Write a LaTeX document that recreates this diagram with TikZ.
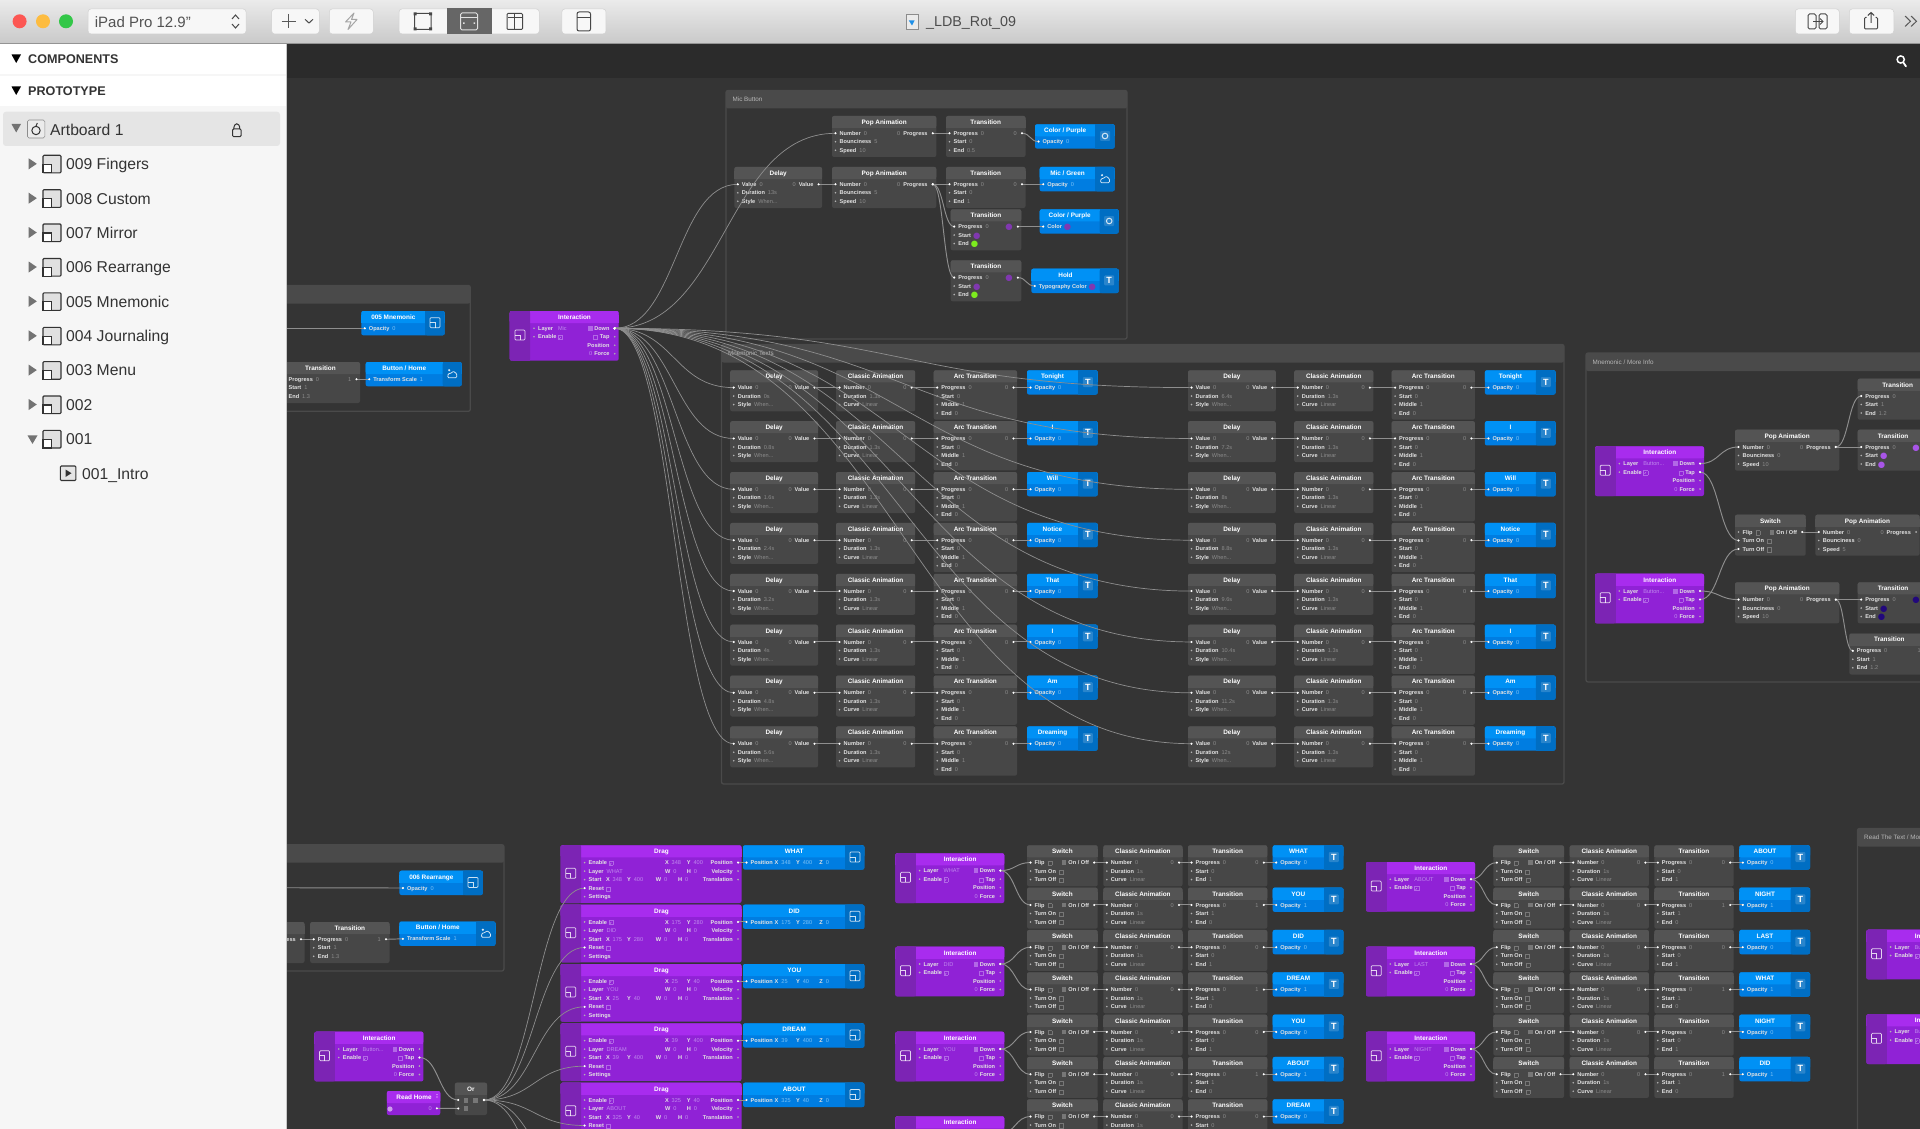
\documentclass[tikz,border=0pt]{standalone}
\usepackage{fontspec}
\setmainfont{Liberation Sans}
\newfontfamily\djfont{DejaVu Sans}
\usetikzlibrary{calc}
\definecolor{canvasc}{HTML}{343434}
\definecolor{stripc}{HTML}{2B2B2B}
\definecolor{groupc}{HTML}{4A4A4A}
\definecolor{cardc}{HTML}{474747}
\definecolor{cardt}{HTML}{545454}
\definecolor{labc}{HTML}{E2E2E2}
\definecolor{valc}{HTML}{8C8C8C}
\definecolor{valp}{HTML}{C08AEE}
\definecolor{valb}{HTML}{7CC2F6}
\definecolor{purb}{HTML}{9022D6}
\definecolor{purt}{HTML}{A82CEE}
\definecolor{puri}{HTML}{7C24B4}
\definecolor{blub}{HTML}{007DE1}
\definecolor{blut}{HTML}{0091F5}
\definecolor{blui}{HTML}{006EC3}
\definecolor{wirec}{HTML}{8E8E8E}
\definecolor{boxc}{HTML}{777777}
\definecolor{boxp}{HTML}{B268E6}
\definecolor{dotpur}{HTML}{8038B0}
\definecolor{dotlil}{HTML}{A855E8}
\definecolor{dotgrn}{HTML}{7CEB1E}
\definecolor{dotnav}{HTML}{22087C}
\definecolor{sidec}{HTML}{F6F6F6}
\definecolor{inkc}{HTML}{333333}
\definecolor{tlred}{HTML}{FC5753}
\definecolor{tlyel}{HTML}{FDBC40}
\definecolor{tlgrn}{HTML}{33C748}
\definecolor{docblue}{HTML}{1E90E8}
\newcommand\rowf{\fontsize{5.6}{6}\selectfont}
\newcommand\ttlf{\fontsize{6.4}{7}\selectfont\bfseries}
\newcommand\LB[1]{\textbf{#1}}
\newcommand\VG[1]{\hspace{3pt}\textcolor{valc}{#1}}
\newcommand\VP[1]{\hspace{3pt}\textcolor{valp}{#1}}
\newcommand\VB[1]{\hspace{3pt}\textcolor{valb}{#1}}
\newcommand\VR[1]{\textcolor{valc}{#1}\hspace{3pt}}
\newcommand\CBX{\raisebox{-.4pt}{\setlength\fboxsep{0pt}\setlength\fboxrule{.5pt}\textcolor{boxc}{\fbox{\rule{0pt}{3.6pt}\hspace{3.6pt}}}}}
\newcommand\CBXP{\raisebox{-.4pt}{\setlength\fboxsep{0pt}\setlength\fboxrule{.5pt}\textcolor{boxp}{\fbox{\rule{0pt}{3.6pt}\hspace{3.6pt}}}}}
\newcommand\CBF{\raisebox{-.4pt}{\color{boxc}\rule{4.8pt}{4.8pt}}}
\newcommand\CBFP{\raisebox{-.4pt}{\color{boxp}\rule{4.8pt}{4.8pt}}}
\newcommand\CBC{\raisebox{-.4pt}{\setlength\fboxsep{0pt}\setlength\fboxrule{.45pt}\color{boxp}\fbox{\rule{0pt}{3.8pt}\makebox[3.8pt]{\color{white}\djfont\fontsize{3.4}{3.4}\selectfont ✓}}}}
\newcommand\DOTC[1]{\raisebox{-.9pt}{\textcolor{#1}{\djfont\fontsize{8.4}{8}\selectfont ●}}}
\tikzset{
  cardbg/.style={rounded corners=2pt,inner sep=0pt,outer sep=0pt,anchor=north west},
  ttl/.style={text=white,font=\ttlf,inner sep=0pt,outer sep=0pt,text height=4.6pt,text depth=1.3pt,anchor=center},
  rowt/.style={text=labc,font=\rowf,inner sep=0pt,outer sep=0pt,text height=4.2pt,text depth=1.2pt},
  portdim/.style={fill=white!70!black},
  wire/.style={draw=wirec,line width=.95pt},
  fanwire/.style={draw=wirec,line width=.7pt},
  btn/.style={fill=white!97!black,draw=black!18,line width=.5pt,rounded corners=3pt,inner sep=0pt,anchor=north west},
  sidet/.style={text=inkc,inner sep=0pt,anchor=west,font=\fontsize{15.7}{18}\selectfont,text height=11.5pt,text depth=3.2pt},
  headt/.style={text=inkc,inner sep=0pt,anchor=west,font=\fontsize{12.6}{14}\selectfont\bfseries,text height=9.2pt,text depth=2.6pt},
  grouplab/.style={text=black!28,inner sep=0pt,anchor=west,font=\fontsize{6.3}{7}\selectfont,text height=4.6pt,text depth=1.4pt},
  tbicon/.style={draw=black!72,line width=1pt,rounded corners=1pt},
}
\newcommand\basecard[7]{%
  \edef\cn{#1}\edef\cx{#2}\edef\cy{#3}\edef\cw{#4}\def\lo{3.5}\def\ro{3.5}%
  \node[cardbg,fill=#6,minimum width=#4pt,minimum height=#5pt] (\cn) at (\cx,\cy) {};
  \fill[#7,rounded corners=2pt] (\cx,\cy) rectangle ({\cx+\cw},{\cy+12});
  \fill[#7] (\cx,{\cy+4}) rectangle ({\cx+\cw},{\cy+12});
}
\newcommand\graycard[6]{\basecard{#1}{#2}{#3}{#4}{#5}{cardc}{cardt}%
  \node[ttl] (\cn-t) at ({\cx+\cw/2},{\cy+6.8}) {#6};}
\newcommand\IR[2]{%
  \coordinate (\cn-i#1) at ({\cx+\lo},{\cy+8.8+8.5*#1});
  \fill[portdim] (\cn-i#1) circle (.9pt);
  \node[rowt,anchor=west] (\cn-l#1) at ({\cx+\lo+4.1},{\cy+9.4+8.5*#1}) {#2};}
\newcommand\OR[2]{%
  \coordinate (\cn-o#1) at ({\cx+\cw-\ro},{\cy+8.8+8.5*#1});
  \fill[portdim] (\cn-o#1) circle (.9pt);
  \node[rowt,anchor=east] (\cn-r#1) at ({\cx+\cw-\ro-5.2},{\cy+9.4+8.5*#1}) {#2};}
\newcommand\TX[4]{\node[rowt,anchor=west] (\cn-x#1) at ({\cx+#2},{\cy+9.4+8.5*#3}) {#4};}
% icons
\newcommand\iconL[3]{%
  \draw[white,opacity=.8,line width=.75pt,rounded corners=1pt] ({#2-5},{#3-5}) rectangle ({#2+5},{#3+5});
  \draw[white,opacity=.8,line width=.75pt] ({#2-5},{#3}) -- ({#2},{#3}) -- ({#2},{#3+5});}
\newcommand\iconT[3]{%
  \fill[white,opacity=.16,rounded corners=1pt] ({#2-5},{#3-5}) rectangle ({#2+5},{#3+5});
  \node[inner sep=0pt,text=white,font=\fontsize{9}{9}\selectfont\bfseries] (#1) at (#2,#3) {T};}
\newcommand\iconI[3]{%
  \fill[white,opacity=.85] ({#2-3},{#3-3.5}) circle (1.2pt);
  \draw[white,opacity=.85,line width=.75pt,rounded corners=1pt] ({#2-4.5},{#3+4}) -- ({#2-4},{#3}) -- ({#2-1},{#3-.5}) -- ({#2+1},{#3-2.5}) -- ({#2+4.5},{#3}) -- ({#2+4.5},{#3+4}) -- cycle;}
\newcommand\iconC[3]{%
  \fill[white,opacity=.14,rounded corners=1pt] ({#2-5},{#3-5}) rectangle ({#2+5},{#3+5});
  \draw[white,opacity=.8,line width=1pt] (#2,#3) circle (2.8pt);}
\newcommand\bluecard[8]{%
  \basecard{#1}{#2}{#3}{#4}{24.3}{blub}{blut}%
  \fill[blui,rounded corners=2pt] ({\cx+\cw-#5},\cy) rectangle ({\cx+\cw},{\cy+24.3});
  \fill[blui] ({\cx+\cw-#5},\cy) rectangle ({\cx+\cw-3},{\cy+24.3});
  \node[ttl] (\cn-t) at ({\cx+(\cw-#5)/2},{\cy+6.8}) {#6};
  \IR{1}{#7}%
  \pgfmathsetmacro\ix{\cx+\cw-#5/2}\pgfmathsetmacro\iy{\cy+11.7}%
  \csname icon#8\endcsname{\cn-ic}{\ix}{\iy}}
\newcommand\interaction[4]{%
  \basecard{#1}{#2}{#3}{109}{49.7}{purb}{purt}\def\lo{24.3}\def\ro{4}%
  \fill[puri,rounded corners=2pt] (\cx,\cy) rectangle ({\cx+20.5},{\cy+49.7});
  \fill[puri] ({\cx+3},\cy) rectangle ({\cx+20.5},{\cy+49.7});
  \node[ttl] (\cn-t) at ({\cx+64.8},{\cy+6.8}) {Interaction};
  \IR{1}{\LB{Layer}\hspace{2pt}\VP{#4}}\IR{2}{\LB{Enable}\hspace{1.5pt}\CBC}%
  \OR{1}{\CBFP\hspace{1.5pt}\LB{Down}}\OR{2}{\CBXP\hspace{2pt}\LB{Tap}}%
  \OR{3}{\LB{Position}}\OR{4}{\textcolor{valp}{0}\hspace{2pt}\LB{Force}}%
  \pgfmathsetmacro\ix{\cx+10.2}\pgfmathsetmacro\iy{\cy+24}\iconL{\cn-ic}{\ix}{\iy}}
\newcommand\TR[7]{\graycard{#1}{#2}{#3}{#4}{41}{Transition}%
  \IR{1}{\LB{Progress}\VG{0}}\OR{1}{\textcolor{valc}{#5}}%
  \IR{2}{\LB{Start}\VG{#6}}\IR{3}{\LB{End}\VG{#7}}}
\newcommand\TRC[7]{\graycard{#1}{#2}{#3}{#4}{41}{Transition}%
  \IR{1}{\LB{Progress}\VG{0}}\OR{1}{\DOTC{#5}}%
  \IR{2}{\LB{Start}\hspace{2pt}\DOTC{#6}}\IR{3}{\LB{End}\hspace{2pt}\DOTC{#7}}}
\newcommand\popanim[7]{\graycard{#1}{#2}{#3}{104.3}{41}{Pop Animation}%
  \IR{1}{\LB{Number}\VG{#4}}\OR{1}{\VR{0}\LB{Progress}}%
  \IR{2}{\LB{Bounciness}\VG{#5}}\IR{3}{\LB{Speed}\VG{#6}}}
\newcommand\delaycard[4]{\graycard{#1}{#2}{#3}{87.8}{41}{Delay}%
  \IR{1}{\LB{Value}\VG{0}}\OR{1}{\VR{0}\LB{Value}}%
  \IR{2}{\LB{Duration}\VG{#4}}\IR{3}{\LB{Style}\VG{When...}}}
\newcommand\classic[4]{\graycard{#1}{#2}{#3}{79.2}{41}{Classic Animation}%
  \IR{1}{\LB{Number}\VG{0}}\OR{1}{\textcolor{valc}{0}}%
  \IR{2}{\LB{Duration}\VG{#4}}\IR{3}{\LB{Curve}\VG{Linear}}}
\newcommand\arcT[3]{\graycard{#1}{#2}{#3}{83.3}{49.3}{Arc Transition}%
  \IR{1}{\LB{Progress}\VG{0}}\OR{1}{\textcolor{valc}{0}}%
  \IR{2}{\LB{Start}\VG{0}}\IR{3}{\LB{Middle}\VG{1}}\IR{4}{\LB{End}\VG{0}}}
\newcommand\switchcard[3]{\graycard{#1}{#2}{#3}{70.7}{41}{Switch}%
  \IR{1}{\LB{Flip}\hspace{3pt}\CBX}\OR{1}{\CBF\hspace{2pt}\LB{On / Off}}%
  \IR{2}{\LB{Turn On}\hspace{3pt}\CBX}\IR{3}{\LB{Turn Off}\hspace{3pt}\CBX}}
\newcommand\dragcard[6]{% name y X Y layer
  \basecard{#1}{560.5}{#2}{181}{57.7}{purb}{purt}\def\lo{24.1}%
  \fill[puri,rounded corners=2pt] (\cx,\cy) rectangle ({\cx+20.7},{\cy+57.7});
  \fill[puri] ({\cx+3},\cy) rectangle ({\cx+20.7},{\cy+57.7});
  \node[ttl] (\cn-t) at ({\cx+101},{\cy+6.8}) {Drag};
  \IR{1}{\LB{Enable}\hspace{1.5pt}\CBC}\IR{2}{\LB{Layer}\VP{#5}}\IR{3}{\LB{Start}}%
  \IR{4}{\LB{Reset}\hspace{2pt}\CBXP}\IR{5}{\LB{Settings}}%
  \OR{1}{\LB{Position}}\OR{2}{\LB{Velocity}}\OR{3}{\LB{Translation}}%
  \TX{a}{104.5}{1}{\LB{X}\VP{#3}}\TX{b}{126.3}{1}{\LB{Y}\VP{#4}}%
  \TX{c}{104.5}{2}{\LB{W}\VP{0}}\TX{d}{126.3}{2}{\LB{H}\VP{0}}%
  \TX{e}{45.5}{3}{\LB{X}\VP{#3}}\TX{f}{66.6}{3}{\LB{Y}\VP{#4}}%
  \TX{g}{95.3}{3}{\LB{W}\VP{0}}\TX{h}{117.5}{3}{\LB{H}\VP{0}}%
  \pgfmathsetmacro\ix{\cx+10.2}\pgfmathsetmacro\iy{\cy+28}\iconL{\cn-ic}{\ix}{\iy}}
\newcommand\groupbox[6]{%
  \fill[groupc,rounded corners=2pt] (#2,#3) rectangle (#4,{#3+18});
  \draw[groupc,line width=1.3pt,rounded corners=2pt] (#2,#3) rectangle (#4,#5);
  \node[grouplab] (#1) at ({#2+6.5},{#3+9.6}) {#6};}
\newcommand\wire[2]{%
  \draw[wire] let \p1=(#1),\p2=(#2),\n1={0.5*abs(\x2-\x1)} in (\p1) .. controls +(\n1,0) and +(-\n1,0) .. (\p2);
  \fill[white] (#1) circle (1.15pt);\fill[white] (#2) circle (1.15pt);}
\newcommand\fanw[2]{%
  \draw[fanwire] let \p1=(#1),\p2=(#2),\n1={0.5*abs(\x2-\x1)} in (\p1) .. controls +(\n1,0) and +(-\n1,0) .. (\p2);
  \fill[white] (#1) circle (1.15pt);\fill[white] (#2) circle (1.15pt);}
\begin{document}
\begin{tikzpicture}[x=1pt,y=-1pt]
\clip (0,0) rectangle (1920,1129);
\useasboundingbox (0,0) rectangle (1920,1129);
\fill[canvasc] (0,0) rectangle (1920,1129);
\fill[stripc] (286,43) rectangle (1920,78.5);
% ---------- groups
\groupbox{gMic}{726}{90.5}{1127}{339}{Mic Button}
\groupbox{gTexts}{721.5}{344.5}{1564}{784}{Mnemonic Texts}
\groupbox{gMore}{1586}{353}{2100}{682}{Mnemonic / More Info}
\groupbox{gTop}{200}{285.5}{470.3}{411.3}{}
\groupbox{gBot}{200}{844.7}{503.9}{971}{}
\groupbox{gRead}{1857.5}{828.5}{2200}{1300}{Read The Text / More Info}
% ---------- left fragments
\bluecard{b005}{361.3}{311}{83.4}{19.4}{005 Mnemonic}{\LB{Opacity}\VB{0}}{L}
\TR{tTop}{281}{362}{79}{1}{1}{1.3}
\bluecard{bHomeA}{365.7}{362}{96}{19}{Button / Home}{\LB{Transform Scale}\VB{1}}{I}
\coordinate (hidA) at (270,328.3);
\bluecard{b006}{399.4}{870.7}{83.4}{19.5}{006 Rearrange}{\LB{Opacity}\VB{0}}{L}
\popanim{pBot}{200.2}{922}{0}{0}{10}{}
\TR{tBot}{310.2}{922}{79.3}{1}{1}{1.3}
\bluecard{bHomeB}{399.4}{921.5}{96.1}{19.2}{Button / Home}{\LB{Transform Scale}\VB{1}}{I}
\coordinate (hidB) at (270,887.7);
% ---------- main interaction
\interaction{main}{509.7}{311}{Mic}
% ---------- mic button group
\popanim{mp1}{832}{116}{0}{5}{10}{}
\TR{mt1}{946}{116}{79.5}{0}{0}{0.5}
\bluecard{mb1}{1035}{124.3}{79.7}{19.4}{Color / Purple}{\LB{Opacity}\VB{0}}{C}
\delaycard{md}{734.3}{167}{13s}
\popanim{mp2}{832}{167}{0}{5}{10}{}
\TR{mt2}{946}{167}{79.5}{0}{0}{1}
\bluecard{mb2}{1039.7}{167}{75}{19.4}{Mic / Green}{\LB{Opacity}\VB{0}}{I}
\TRC{mt3}{950.7}{209.3}{70.6}{dotpur}{dotpur}{dotgrn}
\bluecard{mb3}{1039.7}{209.3}{79}{19}{Color / Purple}{\LB{Color}\hspace{2pt}\DOTC{dotpur}}{C}
\TRC{mt4}{950.7}{260.3}{70.6}{dotpur}{dotpur}{dotgrn}
\bluecard{mb4}{1031.3}{268.7}{87.4}{19}{Hold}{\LB{Typography Color}\hspace{2pt}\DOTC{dotpur}}{T}
% ---------- mnemonic texts
\foreach \kk/\da/\db/\t in {0/0s/6.4s/Tonight,1/0.8s/7.2s/I,2/1.6s/8s/Will,3/2.4s/8.8s/Notice,4/3.2s/9.6s/That,5/4s/10.4s/I,6/4.8s/11.2s/Am,7/5.6s/12s/Dreaming}{
  \pgfmathsetmacro\yy{370.3+50.87*\kk}
  \delaycard{da\kk}{730.2}{\yy}{\da}
  \classic{ca\kk}{836}{\yy}{1.3s}
  \arcT{aa\kk}{933.7}{\yy}
  \bluecard{ba\kk}{1027}{\yy}{70.7}{19.7}{\t}{\LB{Opacity}\VB{0}}{T}
  \delaycard{db\kk}{1188}{\yy}{\db}
  \classic{cb\kk}{1294.2}{\yy}{1.3s}
  \arcT{ab\kk}{1391.6}{\yy}
  \bluecard{bb\kk}{1484.9}{\yy}{70.7}{19.7}{\t}{\LB{Opacity}\VB{0}}{T}
}
% ---------- more info group
\interaction{i1}{1595}{446.3}{Button...}
\interaction{i2}{1595}{573.7}{Button...}
\popanim{ip1}{1735}{429.7}{0}{0}{10}{}
\TR{it1}{1857.7}{378.7}{80}{1}{1}{1.2}
\TRC{it2}{1857.7}{429.7}{70.7}{dotlil}{dotlil}{dotlil}
\switchcard{is}{1735}{514.7}
\popanim{ip2}{1815.3}{514.7}{0}{0}{5}{}
\popanim{ip3}{1735}{582.3}{0}{0}{10}{}
\TRC{it3}{1857.7}{582.3}{70.7}{dotnav}{dotnav}{dotnav}
\TR{it4}{1849.3}{633.5}{80}{1}{1}{1.2}
% ---------- read the text interactions
\interaction{ir1}{1866.3}{929.7}{Button...}
\interaction{ir2}{1866.3}{1014.3}{Button...}
% ---------- drags
\foreach \kk/\vx/\vy/\t in {0/348/400/WHAT,1/175/280/DID,2/25/40/YOU,3/39/400/DREAM,4/325/40/ABOUT}{
  \pgfmathsetmacro\yy{845.3+59.35*\kk}
  \dragcard{dr\kk}{\yy}{\vx}{\vy}{\t}{}
  \bluecard{dv\kk}{743}{\yy}{121.4}{19}{\t}{\LB{Position}\hspace{2pt}\makebox[21.4pt][l]{\LB{X}\VB{\vx}}\makebox[23.3pt][l]{\LB{Y}\VB{\vy}}\LB{Z}\VB{0}}{L}
}
\interaction{ib}{314.4}{1031.7}{Button...}
\basecard{rh}{386.8}{1091}{53.5}{24}{purb}{purt}
\node[ttl] (rh-t) at (414,1097.8) {Read Home};
\fill[white] (437,1094.6) circle (.6pt); \fill[white] (437,1097) circle (.6pt);
\def\ro{3.4}\OR{1}{\textcolor{valp}{0}}
\fill[white!55!purb] (390,1109) circle (2.6pt);
\graycard{orc}{454.9}{1082.7}{32.1}{32.3}{Or}
\def\lo{3.4}\def\ro{3}
\IR{1}{}\IR{2}{}\OR{1}{}
\TX{a}{8.6}{1}{\CBF}\TX{b}{18.2}{1}{\CBF}\TX{c}{8.6}{2}{\CBF}
\coordinate (offA) at (584.6,1184.7);
\coordinate (offB) at (584.6,1244);
% ---------- blocks of switches
\interaction{ia0}{895.3}{853.3}{WHAT}
\interaction{ia1}{895.3}{946.7}{DID}
\interaction{ia2}{895.3}{1031.7}{YOU}
\interaction{ia3}{895.3}{1116.3}{}
\foreach \kk/\t/\vO/\vS/\vE in {0/WHAT/0/0/1,1/YOU/1/1/0,2/DID/0/0/1,3/DREAM/1/1/0,4/YOU/0/0/1,5/ABOUT/1/1/0,6/DREAM/0/0/1}{
  \pgfmathsetmacro\yy{845.3+42.33*\kk}
  \switchcard{sa\kk}{1027}{\yy}
  \classic{fa\kk}{1103.3}{\yy}{1s}
  \TR{ta\kk}{1188}{\yy}{79.3}{\vO}{\vS}{\vE}
  \bluecard{oa\kk}{1272.7}{\yy}{70.7}{19.3}{\t}{\LB{Opacity}\VB{\vO}}{T}
}
\interaction{ic0}{1366}{862}{ABOUT}
\interaction{ic1}{1366}{946.7}{LAST}
\interaction{ic2}{1366}{1031.7}{NIGHT}
\foreach \kk/\t/\vO/\vS/\vE in {0/ABOUT/0/0/1,1/NIGHT/1/1/0,2/LAST/0/0/1,3/WHAT/1/1/0,4/NIGHT/0/0/1,5/DID/1/1/0}{
  \pgfmathsetmacro\yy{845.3+42.33*\kk}
  \switchcard{sc\kk}{1493.3}{\yy}
  \classic{fc\kk}{1569.7}{\yy}{1s}
  \TR{tc\kk}{1654.3}{\yy}{79.4}{\vO}{\vS}{\vE}
  \bluecard{oc\kk}{1739.3}{\yy}{70.7}{19.3}{\t}{\LB{Opacity}\VB{\vO}}{T}
}
% ---------- wires
\wire{hidA}{b005-i1}
\wire{tTop-o1}{bHomeA-i1}
\wire{hidB}{b006-i1}
\wire{pBot-o1}{tBot-i1}
\wire{tBot-o1}{bHomeB-i1}
\wire{mp1-o1}{mt1-i1}
\wire{mt1-o1}{mb1-i1}
\wire{md-o1}{mp2-i1}
\wire{mp2-o1}{mt2-i1}
\wire{mt2-o1}{mb2-i1}
\wire{mp2-o1}{mt3-i1}
\wire{mp2-o1}{mt4-i1}
\wire{mt3-o1}{mb3-i1}
\wire{mt4-o1}{mb4-i1}
\foreach \kk in {0,...,7}{
  \wire{da\kk-o1}{ca\kk-i1}\wire{ca\kk-o1}{aa\kk-i1}\wire{aa\kk-o1}{ba\kk-i1}
  \wire{db\kk-o1}{cb\kk-i1}\wire{cb\kk-o1}{ab\kk-i1}\wire{ab\kk-o1}{bb\kk-i1}
  \fanw{main-o1}{da\kk-i1}\fanw{main-o1}{db\kk-i1}
}
\fanw{main-o1}{mp1-i1}
\fanw{main-o1}{md-i1}
\wire{i1-o1}{ip1-i1}
\wire{i1-o2}{is-i2}
\wire{i2-o2}{is-i3}
\wire{i2-o1}{ip3-i1}
\wire{ip1-o1}{it1-i1}
\wire{ip1-o1}{it2-i1}
\wire{is-o1}{ip2-i1}
\wire{ip3-o1}{it3-i1}
\wire{ip3-o1}{it4-i1}
\wire{ib-o2}{orc-i1}
\wire{rh-o1}{orc-i2}
\foreach \kk in {0,...,4}{\fanw{orc-o1}{dr\kk-i4}\wire{dr\kk-o1}{dv\kk-i1}}
\fanw{orc-o1}{offA}
\fanw{orc-o1}{offB}
\foreach \kk in {0,...,6}{\wire{sa\kk-o1}{fa\kk-i1}\wire{fa\kk-o1}{ta\kk-i1}\wire{ta\kk-o1}{oa\kk-i1}}
\foreach \kk in {0,...,5}{\wire{sc\kk-o1}{fc\kk-i1}\wire{fc\kk-o1}{tc\kk-i1}\wire{tc\kk-o1}{oc\kk-i1}}
\wire{ia0-o1}{sa0-i1}\wire{ia0-o1}{sa1-i1}
\wire{ia1-o1}{sa2-i1}\wire{ia1-o1}{sa3-i1}
\wire{ia2-o1}{sa4-i1}\wire{ia2-o1}{sa5-i1}
\wire{ia3-o1}{sa6-i1}
\wire{ic0-o1}{sc0-i1}\wire{ic0-o1}{sc1-i1}
\wire{ic1-o1}{sc2-i1}\wire{ic1-o1}{sc3-i1}
\wire{ic2-o1}{sc4-i1}\wire{ic2-o1}{sc5-i1}
% ---------- search icon
\draw[white,line width=1.5pt] (1900.7,59.5) circle (3.6pt);
\draw[white,line width=1.8pt,line cap=round] (1903.5,62.8) -- (1906,66.4);
% ---------- sidebar
\fill[sidec] (0,43) rectangle (286,1129);
\fill[black!22] (285.6,43) rectangle (286.6,1129);
\fill[white] (0,43) rectangle (285.6,74);
\fill[white] (0,76) rectangle (285.6,106);
\fill[black] (11.5,54.5) -- (21,54.5) -- (16.2,63) -- cycle;
\fill[black] (11.5,86.5) -- (21,86.5) -- (16.2,95) -- cycle;
\node[headt] (hComp) at (28,60.3) {COMPONENTS};
\node[headt] (hProt) at (28,92.3) {PROTOTYPE};
\fill[black!10,rounded corners=3pt] (3,111.7) rectangle (280,146);
\fill[black!55] (11.5,124) -- (21,124) -- (16.2,132.5) -- cycle;
\draw[black!45,fill=white!92!black,line width=.6pt,rounded corners=1.5pt] (27.5,120) rectangle (44.8,138);
\draw[inkc,line width=1pt] (36,130.5) circle (4.2pt);
\draw[inkc,line width=1pt] (36,126.2) -- (37.3,123);
\node[sidet] (iArt) at (50,131.2) {Artboard 1};
\draw[inkc,line width=1pt] (233.8,129) .. controls (233.8,122) and (239.8,122) .. (239.8,129);
\draw[inkc,line width=1pt,rounded corners=1pt] (232.6,129) rectangle (241,136.6);
\foreach \kk/\yc/\t in {0/164.3/009 Fingers,1/198.7/008 Custom,2/233/007 Mirror,3/267.5/006 Rearrange,4/301.8/005 Mnemonic,5/336.3/004 Journaling,6/370.6/003 Menu,7/405/002,8/439.4/001}{
  \ifnum\kk=8
    \fill[black!55] (27.5,{\yc-4}) -- (37.5,{\yc-4}) -- (32.5,{\yc+4.5}) -- cycle;
  \else
    \fill[black!55] (28.7,{\yc-6}) -- (36.8,{\yc-0.5}) -- (28.7,{\yc+5}) -- cycle;
  \fi
  \draw[inkc,fill=black!12,line width=1.1pt,rounded corners=1pt] (43,{\yc-9}) rectangle (61,{\yc+8.6});
  \draw[inkc,fill=white,line width=1.1pt] (43,{\yc}) -- (51.5,{\yc}) -- (51.5,{\yc+8.6}) -- (43,{\yc+8.6}) -- cycle;
  \node[sidet] (side\kk) at (66,{\yc+1.2}) {\t};
}
\draw[inkc,fill=black!10,line width=1.1pt,rounded corners=1pt] (60.3,466) rectangle (75.8,480.5);
\fill[inkc] (65.5,469.5) -- (71.5,473.2) -- (65.5,477) -- cycle;
\node[sidet] (side9) at (82,475.2) {001\_Intro};
% ---------- toolbar
\shade[top color=white!92!black,bottom color=white!79!black] (0,0) rectangle (1920,43);
\fill[black!42] (0,43) rectangle (1920,44);
\fill[tlred] (19.6,21.3) circle (7pt);
\fill[tlyel] (43,21.3) circle (7pt);
\fill[tlgrn] (66,21.3) circle (7pt);
\node[btn,minimum width=158pt,minimum height=25pt] (bDev) at (87.8,8.7) {};
\node[inner sep=0pt,anchor=west,text=black!68,font=\fontsize{15}{17}\selectfont] (tDev) at (94.7,22) {iPad Pro 12.9"};
\draw[black!70,line width=1pt] (232,19) -- (235.5,15) -- (239,19) (232,24) -- (235.5,28) -- (239,24);
\node[btn,minimum width=47.6pt,minimum height=25pt] (bAdd) at (271.4,8.7) {};
\draw[black!65,line width=1.1pt] (281.5,21.3) -- (296,21.3) (288.7,14) -- (288.7,28.5);
\draw[black!70,line width=1pt] (305,19.3) -- (309,23) -- (313,19.3);
\node[btn,minimum width=44pt,minimum height=25pt] (bBolt) at (329,8.7) {};
\draw[black!35,line width=1pt,line join=round] (354,13) -- (345.5,22) -- (351,22) -- (348,29.5) -- (357,19.5) -- (351.5,19.5) -- cycle;
\node[btn,minimum width=140.2pt,minimum height=25pt] (bSeg) at (398.8,8.7) {};
\fill[black!60] (446.5,8.2) rectangle (492.2,34);
\draw[tbicon] (414.5,13.5) rectangle (431,29.5);
\fill[black!72] (413.5,12.5) rectangle (416.5,15.5) (429,12.5) rectangle (432,15.5) (413.5,27.5) rectangle (416.5,30.5) (429,27.5) rectangle (432,30.5);
\draw[white!88!black,line width=1pt,rounded corners=1.5pt] (460.5,13) rectangle (477.5,30);
\draw[white!88!black,line width=1pt] (460.5,17.5) -- (477.5,17.5);
\fill[white!88!black] (463,22.5) rectangle (464.5,24) (473.5,22.5) rectangle (475,24);
\draw[tbicon] (507,13.5) rectangle (522.5,29.5);
\draw[black!72,line width=1pt] (514.7,13.5) -- (514.7,29.5) (508,18) -- (521.5,18);
\node[btn,minimum width=44.1pt,minimum height=25pt] (bPhone) at (561.6,8.7) {};
\draw[tbicon,rounded corners=2pt] (577,12) rectangle (590.5,31);
\draw[black!72,line width=.8pt] (577,17) -- (590.5,17);
\node[inner sep=0pt,anchor=center,fill=white!92!black,draw=black!45,line width=.3pt,minimum width=12pt,minimum height=15pt] (docI) at (911.7,22) {};
\fill[docblue] (908.8,20.5) -- (914.5,20.5) -- (912,25.5) -- cycle;
\node[inner sep=0pt,anchor=west,text=black!70,font=\fontsize{14.3}{16}\selectfont] (tDoc) at (926,23) {\_LDB\_Rot\_09};
\node[btn,minimum width=44pt,minimum height=25pt] (bCmp) at (1795,8.7) {};
\draw[tbicon,rounded corners=1.5pt] (1808,14) rectangle (1816,29);
\draw[tbicon,rounded corners=1.5pt] (1819,14) rectangle (1827,29);
\draw[black!72,line width=.8pt] (1813,21.5) -- (1823,21.5) (1820,18.5) -- (1823,21.5) -- (1820,24.5);
\node[btn,minimum width=44.5pt,minimum height=25pt] (bShare) at (1849,8.7) {};
\draw[tbicon] (1866.5,17.5) -- (1864.5,17.5) -- (1864.5,29) -- (1877.5,29) -- (1877.5,17.5) -- (1875.5,17.5);
\draw[black!72,line width=1pt] (1871,23) -- (1871,12.5) (1867.8,15.5) -- (1871,12.5) -- (1874.2,15.5);
\draw[black!65,line width=1pt] (1905,16) -- (1910.5,21.3) -- (1905,26.5) (1911,16) -- (1916.5,21.3) -- (1911,26.5);
\end{tikzpicture}
\end{document}
